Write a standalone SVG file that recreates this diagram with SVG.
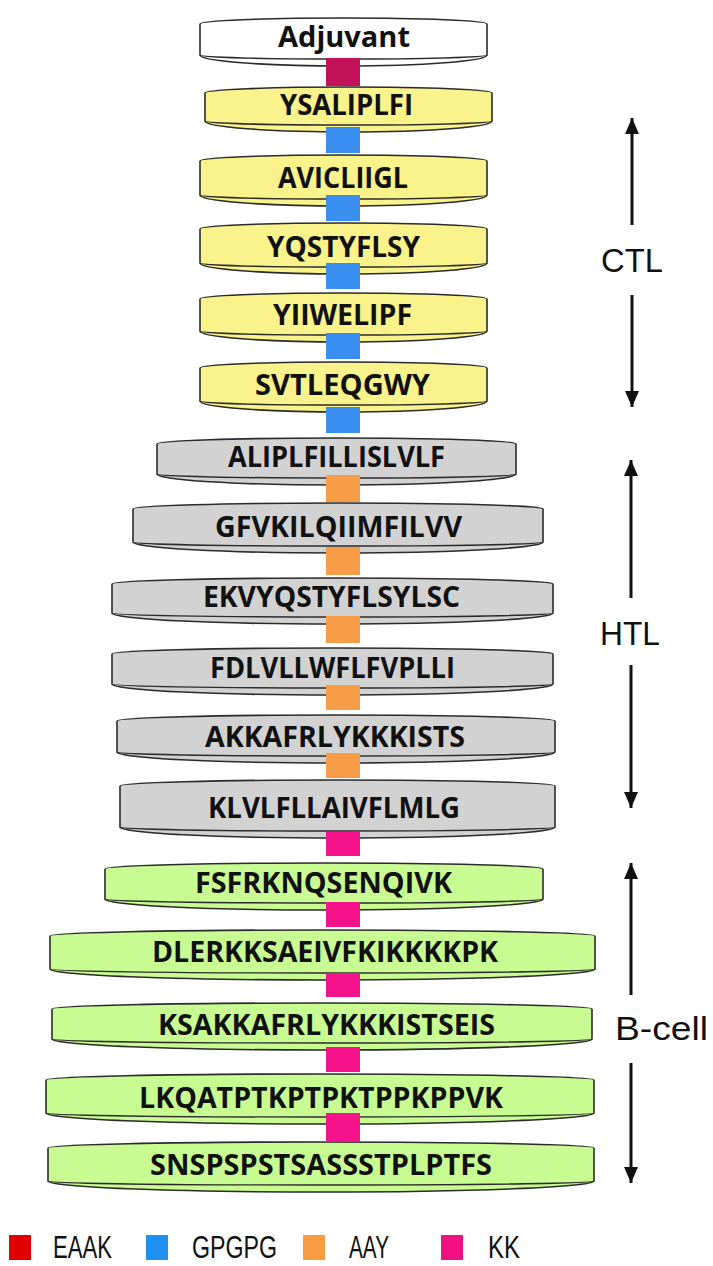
<svg xmlns="http://www.w3.org/2000/svg" width="713" height="1266" viewBox="0 0 713 1266">
<style>
.d{stroke:#2b2b2b;stroke-width:1.6}
.in{fill:none;stroke:#2b2b2b;stroke-width:1.4}
.w{fill:#ffffff}
.y{fill:#faf28a}
.g{fill:#d2d2d2}
.gr{fill:#c9fb93}
.t{font-family:"Open Sans","Noto Sans",sans-serif;font-weight:700;font-size:29px;fill:#111;text-anchor:middle}
.lab{font-family:"Liberation Sans",Arial,sans-serif;font-size:34px;fill:#111}
.leg{font-family:"Liberation Sans",Arial,sans-serif;font-size:32px;fill:#111}
.ar{stroke:#111;stroke-width:3;fill:none;marker-end:url(#ah)}
.mr{fill:#c4125a}.bl{fill:#3a8ef0}.or{fill:#f89c48}.mg{fill:#f5128a}
</style>
<defs>
<marker id="ah" markerUnits="userSpaceOnUse" markerWidth="16" markerHeight="16" refX="16" refY="7" orient="auto">
<path d="M0,0 L16,7 L0,14 Z" fill="#111"/>
</marker>
</defs>
<rect width="713" height="1266" fill="#ffffff"/>

<g id="n1"><path class="d w" d="M200,24 A143.5,6 0 0 1 487,24 L487,55 A143.5,11 0 0 1 200,55 Z"/><path class="in" d="M200,55 A143.5,4 0 0 0 487,55"/><text class="t" x="344" y="47" textLength="132" lengthAdjust="spacingAndGlyphs">Adjuvant</text></g>
<g id="n2"><path class="d y" d="M205,93 A143.5,6 0 0 1 492,93 L492,121 A143.5,11 0 0 1 205,121 Z"/><path class="in" d="M205,121 A143.5,4 0 0 0 492,121"/><text class="t" x="346.5" y="115" textLength="133" lengthAdjust="spacingAndGlyphs">YSALIPLFI</text></g>
<g id="n3"><path class="d y" d="M200,161 A143.5,6 0 0 1 487,161 L487,195 A143.5,11 0 0 1 200,195 Z"/><path class="in" d="M200,195 A143.5,4 0 0 0 487,195"/><text class="t" x="343" y="188" textLength="130" lengthAdjust="spacingAndGlyphs">AVICLIIGL</text></g>
<g id="n4"><path class="d y" d="M200,229 A143.5,6 0 0 1 487,229 L487,263 A143.5,11 0 0 1 200,263 Z"/><path class="in" d="M200,263 A143.5,4 0 0 0 487,263"/><text class="t" x="343.5" y="257" textLength="153" lengthAdjust="spacingAndGlyphs">YQSTYFLSY</text></g>
<g id="n5"><path class="d y" d="M200,299 A143.5,6 0 0 1 487,299 L487,331 A143.5,11 0 0 1 200,331 Z"/><path class="in" d="M200,331 A143.5,4 0 0 0 487,331"/><text class="t" x="342.5" y="325" textLength="139" lengthAdjust="spacingAndGlyphs">YIIWELIPF</text></g>
<g id="n6"><path class="d y" d="M200,368 A143.5,6 0 0 1 487,368 L487,401 A143.5,11 0 0 1 200,401 Z"/><path class="in" d="M200,401 A143.5,4 0 0 0 487,401"/><text class="t" x="342.5" y="395" textLength="175" lengthAdjust="spacingAndGlyphs">SVTLEQGWY</text></g>

<g id="n7"><path class="d g" d="M157,444 A179.5,6 0 0 1 516,444 L516,474 A179.5,11 0 0 1 157,474 Z"/><path class="in" d="M157,474 A179.5,4 0 0 0 516,474"/><text class="t" x="336.5" y="467" textLength="217" lengthAdjust="spacingAndGlyphs">ALIPLFILLISLVLF</text></g>
<g id="n8"><path class="d g" d="M133,509 A205,6 0 0 1 543,509 L543,542 A205,11 0 0 1 133,542 Z"/><path class="in" d="M133,542 A205,4 0 0 0 543,542"/><text class="t" x="338.5" y="537" textLength="247" lengthAdjust="spacingAndGlyphs">GFVKILQIIMFILVV</text></g>
<g id="n9"><path class="d g" d="M112,584 A220.5,6 0 0 1 553,584 L553,613 A220.5,11 0 0 1 112,613 Z"/><path class="in" d="M112,613 A220.5,4 0 0 0 553,613"/><text class="t" x="331.5" y="607" textLength="257" lengthAdjust="spacingAndGlyphs">EKVYQSTYFLSYLSC</text></g>
<g id="n10"><path class="d g" d="M112,654 A220.5,6 0 0 1 553,654 L553,684 A220.5,11 0 0 1 112,684 Z"/><path class="in" d="M112,684 A220.5,4 0 0 0 553,684"/><text class="t" x="332.5" y="678" textLength="245" lengthAdjust="spacingAndGlyphs">FDLVLLWFLFVPLLI</text></g>
<g id="n11"><path class="d g" d="M117,721 A219,6 0 0 1 555,721 L555,752 A219,11 0 0 1 117,752 Z"/><path class="in" d="M117,752 A219,4 0 0 0 555,752"/><text class="t" x="335" y="747" textLength="260" lengthAdjust="spacingAndGlyphs">AKKAFRLYKKKISTS</text></g>
<g id="n12"><path class="d g" d="M120,786 A217.5,6 0 0 1 555,786 L555,827 A217.5,11 0 0 1 120,827 Z"/><path class="in" d="M120,827 A217.5,4 0 0 0 555,827"/><text class="t" x="334" y="818" textLength="252" lengthAdjust="spacingAndGlyphs">KLVLFLLAIVFLMLG</text></g>

<g id="n13"><path class="d gr" d="M105,869 A219,6 0 0 1 543,869 L543,899 A219,11 0 0 1 105,899 Z"/><path class="in" d="M105,899 A219,4 0 0 0 543,899"/><text class="t" x="323.5" y="893" textLength="257" lengthAdjust="spacingAndGlyphs">FSFRKNQSENQIVK</text></g>
<g id="n14"><path class="d gr" d="M50,936 A272.5,6 0 0 1 595,936 L595,969 A272.5,11 0 0 1 50,969 Z"/><path class="in" d="M50,969 A272.5,4 0 0 0 595,969"/><text class="t" x="325" y="962" textLength="346" lengthAdjust="spacingAndGlyphs">DLERKKSAEIVFKIKKKKPK</text></g>
<g id="n15"><path class="d gr" d="M52,1009 A270,6 0 0 1 592,1009 L592,1039 A270,11 0 0 1 52,1039 Z"/><path class="in" d="M52,1039 A270,4 0 0 0 592,1039"/><text class="t" x="326.5" y="1035" textLength="337" lengthAdjust="spacingAndGlyphs">KSAKKAFRLYKKKISTSEIS</text></g>
<g id="n16"><path class="d gr" d="M46,1080 A274,6 0 0 1 594,1080 L594,1113 A274,11 0 0 1 46,1113 Z"/><path class="in" d="M46,1113 A274,4 0 0 0 594,1113"/><text class="t" x="321" y="1108" textLength="364" lengthAdjust="spacingAndGlyphs">LKQATPTKPTPKTPPKPPVK</text></g>
<g id="n17"><path class="d gr" d="M48,1148 A273,6 0 0 1 594,1148 L594,1181 A273,11 0 0 1 48,1181 Z"/><path class="in" d="M48,1181 A273,4 0 0 0 594,1181"/><text class="t" x="321" y="1175" textLength="342" lengthAdjust="spacingAndGlyphs">SNSPSPSTSASSSTPLPTFS</text></g>

<g id="connectors">
<rect class="mr" x="326" y="58" width="34" height="28"/>
<rect class="bl" x="326" y="127" width="34" height="26"/>
<rect class="bl" x="326" y="195" width="34" height="26"/>
<rect class="bl" x="326" y="263" width="34" height="26"/>
<rect class="bl" x="326" y="333" width="34" height="26"/>
<rect class="bl" x="326" y="407" width="34" height="26"/>
<rect class="or" x="326" y="475" width="34" height="27"/>
<rect class="or" x="326" y="547" width="34" height="28"/>
<rect class="or" x="326" y="616" width="34" height="27"/>
<rect class="or" x="326" y="685" width="34" height="25"/>
<rect class="or" x="326" y="753" width="34" height="25"/>
<rect class="mg" x="326" y="832" width="34" height="24"/>
<rect class="mg" x="326" y="902" width="34" height="25"/>
<rect class="mg" x="326" y="973" width="34" height="24"/>
<rect class="mg" x="326" y="1047" width="34" height="25"/>
<rect class="mg" x="326" y="1113" width="34" height="29"/>
</g>

<g id="ranges">
<line class="ar" x1="632" y1="225" x2="632" y2="118"/>
<line class="ar" x1="632" y1="295" x2="632" y2="407"/>
<text class="lab" x="632" y="272" text-anchor="middle" textLength="62" lengthAdjust="spacingAndGlyphs">CTL</text>
<line class="ar" x1="631" y1="598" x2="631" y2="460"/>
<line class="ar" x1="631" y1="665" x2="631" y2="808"/>
<text class="lab" x="630" y="645" text-anchor="middle" textLength="60" lengthAdjust="spacingAndGlyphs">HTL</text>
<line class="ar" x1="631" y1="995" x2="631" y2="863"/>
<line class="ar" x1="631" y1="1063" x2="631" y2="1183"/>
<text class="lab" x="615" y="1040" textLength="93" lengthAdjust="spacingAndGlyphs">B-cell</text>
</g>

<g id="legend">
<rect x="9" y="1235" width="22" height="25" fill="#e00000"/>
<text class="leg" x="53" y="1258" textLength="59" lengthAdjust="spacingAndGlyphs">EAAK</text>
<rect x="146" y="1235" width="22" height="25" fill="#1e90f0"/>
<text class="leg" x="192" y="1258" textLength="85" lengthAdjust="spacingAndGlyphs">GPGPG</text>
<rect x="303" y="1235" width="22" height="25" fill="#f99b42"/>
<text class="leg" x="349" y="1258" textLength="40" lengthAdjust="spacingAndGlyphs">AAY</text>
<rect x="441" y="1235" width="22" height="25" fill="#f0107f"/>
<text class="leg" x="488" y="1258" textLength="32" lengthAdjust="spacingAndGlyphs">KK</text>
</g>
</svg>
